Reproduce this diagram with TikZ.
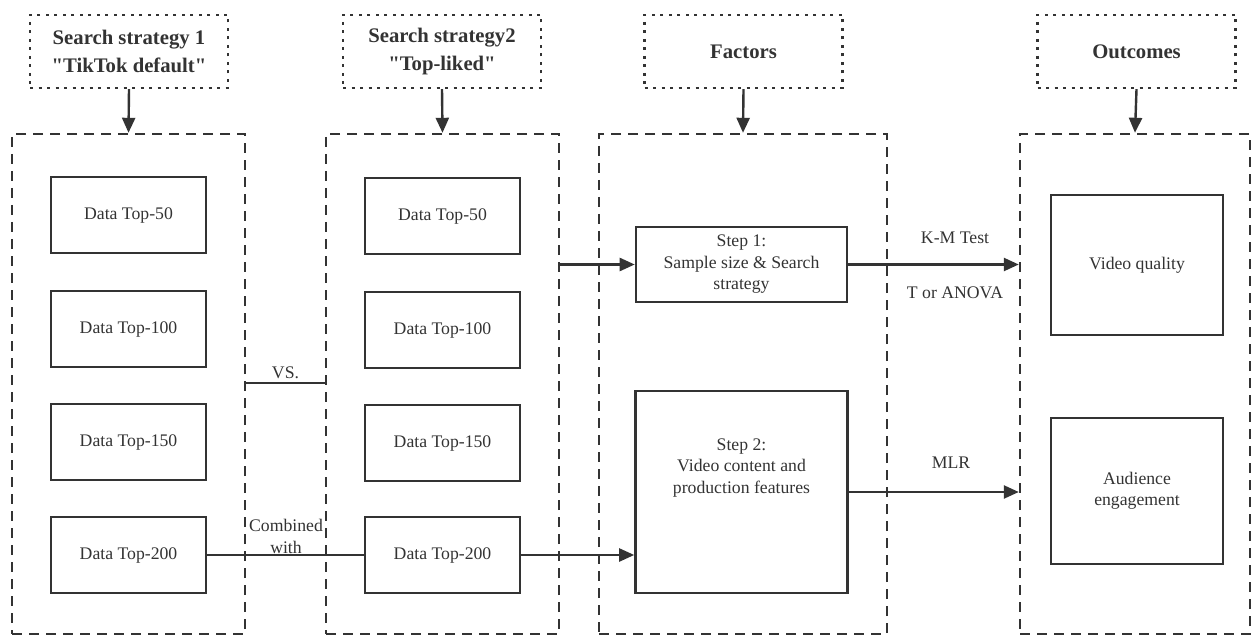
\documentclass[tikz,border=0pt]{standalone}
\usepackage{fontspec}
\setmainfont{Liberation Serif}[Ligatures=TeXOff]
\usetikzlibrary{arrows.meta}
\definecolor{ink}{RGB}{51,51,51}
\begin{document}
\begin{tikzpicture}[x=1pt,y=-1pt,
  every node/.style={text=ink, inner sep=0pt, align=center, font=\fontsize{17.7}{21.5}\selectfont},
  header/.style={draw=ink, line width=2.4pt, dash pattern=on 3pt off 5.5pt, minimum width=198pt, minimum height=73pt, font=\fontsize{20.7}{27.5}\selectfont\bfseries},
  frame/.style={draw=ink, line width=2.4pt, dash pattern=on 10pt off 7pt, minimum height=500pt},
  databox/.style={draw=ink, line width=2.6pt, minimum width=155pt, minimum height=76pt},
  conn/.style={draw=ink, line width=2.4pt, -{Triangle[length=15pt,width=13pt]}},
  thin/.style={draw=ink, line width=1.8pt},
  lbl/.style={font=\fontsize{17.7}{21.5}\selectfont}
]
\useasboundingbox (0,0) rectangle (1252,636);

% headers
\node[header] (h1) at (129,51.5) {Search strategy 1\\"TikTok default"};
\node[header] (h2) at (442,51.5) {Search strategy2\\"Top-liked"};
\node[header] (h3) at (743.5,51.5) {Factors};
\node[header] (h4) at (1136.5,51.5) {Outcomes};

% frames
\node[frame, minimum width=233pt] (c1) at (128.5,384) {};
\node[frame, minimum width=233pt] (c2) at (442.5,384) {};
\node[frame, minimum width=288pt] (c3) at (743,384) {};
\node[frame, minimum width=230pt] (c4) at (1135,384) {};

\foreach \i in {1,2,3,4} {
  \draw[conn] (h\i.south) -- (c\i.north);
}

% data boxes
\node[databox] (a50) at (128.5,215) {Data Top-50};
\node[databox] (a100) at (128.5,329) {Data Top-100};
\node[databox] (a150) at (128.5,442) {Data Top-150};
\node[databox] (a200) at (128.5,555) {Data Top-200};
\node[databox] (b50) at (442.5,216) {Data Top-50};
\node[databox] (b100) at (442.5,330) {Data Top-100};
\node[databox] (b150) at (442.5,443) {Data Top-150};
\node[databox] (b200) at (442.5,555) {Data Top-200};

% steps
\node[databox, minimum width=211pt, minimum height=75pt] (s1) at (741.5,264.5) {Step 1:\\Sample size \& Search\\strategy};
\node[databox, minimum width=212pt, minimum height=202pt] (s2) at (741.5,492) {};
\node[lbl] (s2t) at (741.5,468) {Step 2:\\Video content and\\production features};

% outcomes
\node[databox, minimum width=172pt, minimum height=140pt] (vq) at (1137,265) {Video quality};
\node[databox, minimum width=172pt, minimum height=146pt] (ae) at (1137,491) {Audience\\engagement};

% connectors
\coordinate (vsL) at (c1.east |- 0,383);
\coordinate (vsR) at (c2.west |- 0,383);
\draw[thin] (vsL) -- node[lbl, above=3pt] {VS.} (vsR);

\draw[thin, line width=1.5pt] (a200.east) -- (b200.west);
\node[lbl, font=\fontsize{17.7}{22}\selectfont] (cw) at (286,536) {Combined\\with};

\draw[conn] (s1.west -| c2.east) -- (s1.west);
\draw[conn] (b200.east) -- (b200.east -| s2.west);

\draw[conn] (s1.east) -- (s1.east -| c4.west);
\node[lbl] (km) at (955,238) {K-M Test};
\node[lbl] (ta) at (955,293) {T or ANOVA};

\draw[conn] (s2.east) -- (s2.east -| c4.west);
\node[lbl] (mlr) at (951,463) {MLR};
\end{tikzpicture}
\end{document}
